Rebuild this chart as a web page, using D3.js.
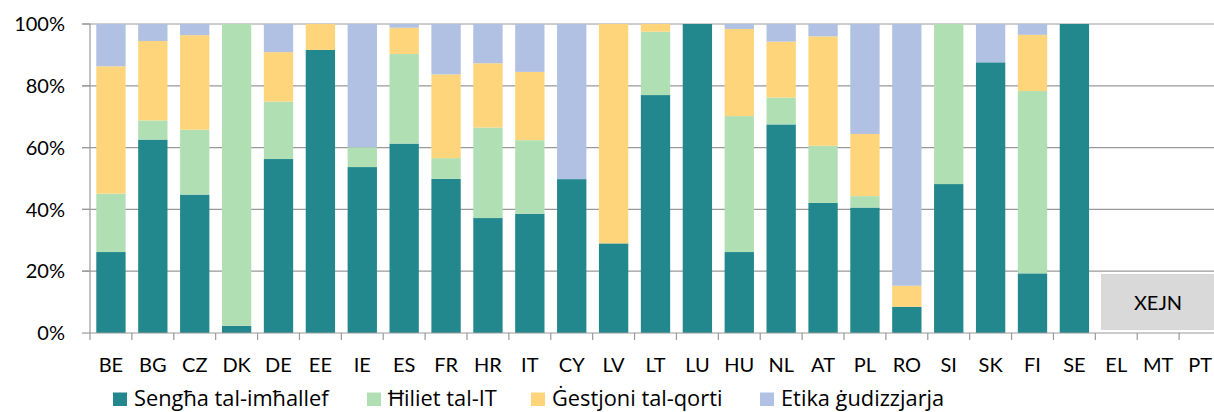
<!DOCTYPE html>
<html>
<head>
<meta charset="utf-8">
<script src="https://cdn.jsdelivr.net/npm/d3@7"></script>
<style>
  html, body { margin: 0; padding: 0; background: #fff; }
  svg { display: block; }
  text { font-family: Lato, "Open Sans", sans-serif; fill: #000; }
  .leg text { font-family: "Open Sans", Lato, sans-serif; }
</style>
</head>
<body>
<svg id="chart" width="1214" height="412"></svg>
<script>
const categories = ["BE","BG","CZ","DK","DE","EE","IE","ES","FR","HR","IT","CY","LV","LT","LU","HU","NL","AT","PL","RO","SI","SK","FI","SE","EL","MT","PT"];
const seriesNames = ["Sengħa tal-imħallef","Ħiliet tal-IT","Ġestjoni tal-qorti","Etika ġudizzjarja"];
const skills   = [26.2,62.6,44.8, 2.3,56.3,91.6,53.7,61.3,49.9,37.2,38.6,49.8,29.0,77.0,100, 26.2,67.5,42.1,40.6, 8.5,48.2,87.6,19.3,100, 0,0,0];
const itSkills = [18.9, 6.2,21.0,97.7,18.6, 0,   6.4,29.0, 6.7,29.3,23.8, 0,   0,  20.5, 0,  44.0, 8.7,18.5, 3.7, 0,  51.8, 0,  59.0, 0,   0,0,0];
const courtMgmt= [41.2,25.7,30.6, 0,  16.0, 8.4, 0,   8.5,27.1,20.8,22.1, 0,  71.0, 2.5, 0,  28.2,18.1,35.4,20.1, 6.8, 0,   0,  18.2, 0,   0,0,0];
const ethics   = [13.7, 5.5, 3.6, 0,   9.1, 0,  39.9, 1.2,16.3,12.7,15.5,50.2, 0,   0,   0,   1.6, 5.7, 4.0,35.6,84.7, 0,  12.4, 3.5, 0,   0,0,0];
const yTicks = [0,20,40,60,80,100];
const noDataLabel = "XEJN";
const noDataCats = ["EL","MT","PT"];
const colors = ["#22888e","#b1dfb4","#fed57b","#b0c1e4"];

const rows = categories.map((c,i)=>({cat:c, s0:skills[i], s1:itSkills[i], s2:courtMgmt[i], s3:ethics[i]}));
const keys = ["s0","s1","s2","s3"];
const stack = d3.stack().keys(keys)(rows);

const svg = d3.select("#chart");
const x = d3.scaleBand().domain(categories).range([90, 1221]).paddingInner(0.3).paddingOuter(0.15);
const y = d3.scaleLinear().domain([0,100]).range([333, 24]);
const gridCol = "#999999";

// gridlines
svg.append("g").selectAll("line").data(yTicks.filter(t=>t>0)).join("line")
  .attr("x1", 82).attr("x2", 1221)
  .attr("y1", d=>y(d)).attr("y2", d=>y(d))
  .attr("stroke", gridCol).attr("stroke-width", 1.2);

// y tick marks & axis line
svg.append("line").attr("x1",90).attr("x2",90).attr("y1",y(100)).attr("y2",y(0)).attr("stroke",gridCol).attr("stroke-width",1.2);
svg.append("g").selectAll("line").data(yTicks).join("line")
  .attr("x1",82).attr("x2",90).attr("y1",d=>y(d)).attr("y2",d=>y(d))
  .attr("stroke",gridCol).attr("stroke-width",1.2);
svg.append("g").selectAll("text").data(yTicks).join("text")
  .attr("x", 65).attr("y", d=>y(d)).attr("dy","0.36em")
  .attr("text-anchor","end").attr("font-size","20px")
  .text(d=>d+"%");

// bars
svg.append("g").selectAll("g").data(stack).join("g")
  .attr("fill",(d,i)=>colors[i])
  .selectAll("rect").data(d=>d).join("rect")
  .attr("x", d=>x(d.data.cat))
  .attr("width", x.bandwidth())
  .attr("y", d=>y(d[1]))
  .attr("height", d=>Math.max(0, y(d[0]) - y(d[1])));

// x axis
svg.append("line").attr("x1",90).attr("x2",1221).attr("y1",y(0)).attr("y2",y(0)).attr("stroke",gridCol).attr("stroke-width",1.2);
const step = x.step();
svg.append("g").selectAll("line").data(d3.range(categories.length+1)).join("line")
  .attr("x1", i=>90 + i*step).attr("x2", i=>90 + i*step)
  .attr("y1", y(0)).attr("y2", y(0)+7)
  .attr("stroke",gridCol).attr("stroke-width",1.2);
svg.append("g").selectAll("text").data(categories).join("text")
  .attr("x", d=>x(d)+x.bandwidth()/2).attr("y", 371.5)
  .attr("text-anchor","middle").attr("font-size","20px")
  .text(d=>d);

// no data box
const bx0 = x(noDataCats[0]), bx1 = 1215;
svg.append("rect").attr("x", bx0).attr("y", 274.5).attr("width", bx1-bx0).attr("height", 55)
  .attr("fill","#d9d9d9").attr("stroke","#bfbfbf").attr("stroke-width",1).attr("stroke-dasharray","1,1");
svg.append("text").attr("x",1158).attr("y",309.5).attr("text-anchor","middle").attr("font-size","20px").text(noDataLabel);

// legend
const legX = [113, 367, 531, 760];
const lg = svg.append("g").attr("class","leg").selectAll("g").data(seriesNames).join("g")
  .attr("transform",(d,i)=>`translate(${legX[i]},0)`);
lg.append("rect").attr("x",0).attr("y",392.5).attr("width",14).attr("height",13.5).attr("fill",(d,i)=>colors[i]);
lg.append("text").attr("x",21).attr("y",405.5).attr("font-size","21.8px").text(d=>d);
</script>
</body>
</html>
